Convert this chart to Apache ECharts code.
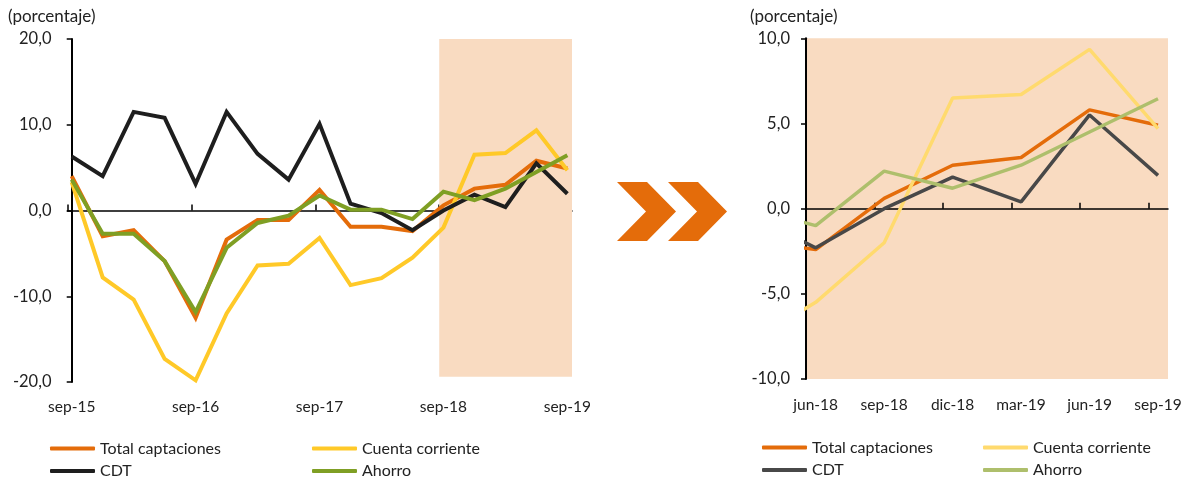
<!DOCTYPE html>
<html>
<head>
<meta charset="utf-8">
<script src="https://cdn.jsdelivr.net/npm/echarts@6/dist/echarts.min.js"></script>
<style>
  html, body { margin: 0; padding: 0; background: #fff; }
  #chart { width: 1191px; height: 483px; }
</style>
</head>
<body>
<div id="chart"></div>
<script>
// trimestres sep-15 .. sep-19 (indice 0..16)
const quarters = ['sep-15', 'dic-15', 'mar-16', 'jun-16', 'sep-16', 'dic-16', 'mar-17', 'jun-17', 'sep-17',
  'dic-17', 'mar-18', 'jun-18', 'sep-18', 'dic-18', 'mar-19', 'jun-19', 'sep-19']
const totalCaptaciones = [4.0, -3.0, -2.3, -5.9, -12.5, -3.4, -1.1, -1.1, 2.4, -1.9, -1.9, -2.4, 0.6, 2.55, 3.0, 5.8, 4.9]
const cuentaCorriente = [3.3, -7.8, -10.4, -17.3, -19.8, -12.0, -6.4, -6.2, -3.2, -8.7, -7.9, -5.5, -2.0, 6.5, 6.7, 9.35, 4.7]
const cdt = [6.3, 4.0, 11.5, 10.8, 3.1, 11.5, 6.6, 3.6, 10.1, 0.8, -0.3, -2.3, 0.0, 1.85, 0.4, 5.5, 1.95]
const ahorro = [3.6, -2.7, -2.7, -5.9, -11.85, -4.35, -1.45, -0.6, 1.75, 0.1, 0.1, -1.0, 2.2, 1.2, 2.55, 4.5, 6.45]

const leftLabels = ['sep-15', 'sep-16', 'sep-17', 'sep-18', 'sep-19']
const rightLabels = ['jun-18', 'sep-18', 'dic-18', 'mar-19', 'jun-19', 'sep-19']
const rightFrom = 'mar-18'      // el panel derecho arranca recortado antes de jun-18
const shadeFrom = 'sep-18'

const names = ['Total captaciones', 'Cuenta corriente', 'CDT', 'Ahorro']
const values = [totalCaptaciones, cuentaCorriente, cdt, ahorro]
const leftColors = ['#E46C0A', '#FFC928', '#1E1E1E', '#7F9F24']
const rightColors = ['#E46C0A', '#FFDA6E', '#484848', '#AEBF6C']
const peach = '#F9DBC1'
const font = 'Lato'

// eje x: excel pone las marcas un poco antes de cada dato
const leftMin = -0.136, leftMax = 16.15
const rStart = quarters.indexOf(rightFrom)
const rFirst = quarters.indexOf(rightLabels[0])
const rightMin = rFirst - 0.142, rightMax = quarters.length - 1 + 0.146

const idx = l => quarters.indexOf(l)
const fmt = v => v.toFixed(1).replace('.', ',')

const chart = echarts.init(document.getElementById('chart'))

const yAxisBase = (gi, min, max, interval) => ({
  type: 'value', gridIndex: gi, min, max, interval,
  axisLine: { show: true, lineStyle: { color: '#000', width: 2 } },
  axisTick: { show: true, inside: false, length: 5, lineStyle: { color: '#000', width: 1.5 } },
  axisLabel: { formatter: fmt, color: '#222', fontSize: 16.5, fontFamily: font, margin: 16 },
  splitLine: { show: false }
})

const lineAxis = (gi, min, max, ticks) => ({
  type: 'value', gridIndex: gi, min, max,
  axisLine: { show: true, onZero: true, lineStyle: { color: '#000', width: 1.5 } },
  axisTick: { show: true, inside: true, length: 6, customValues: ticks, lineStyle: { color: '#000', width: 1.5 } },
  axisLabel: { show: false },
  splitLine: { show: false }
})

const labelAxis = (gi, min, max, labels, margin) => ({
  type: 'value', gridIndex: gi, min, max, position: 'bottom',
  axisLine: { show: false, onZero: false },
  axisTick: { show: false },
  axisLabel: {
    customValues: labels.map(idx),
    formatter: v => quarters[Math.round(v)],
    color: '#222', fontSize: 15.5, fontFamily: font, margin
  },
  splitLine: { show: false }
})

const leftTicks = leftLabels.map(l => idx(l) + leftMin)
const rightTicks = rightLabels.slice(1).map(l => idx(l) + (rightMin - rFirst))

const series = []
// sombreado del periodo reciente en el panel izquierdo
series.push({
  type: 'line', xAxisIndex: 0, yAxisIndex: 0, data: [], z: 1, silent: true, clip: false,
  markArea: {
    silent: true,
    itemStyle: { color: peach },
    data: [[{ xAxis: idx(shadeFrom) + leftMin, yAxis: 20.35 }, { xAxis: leftMax, yAxis: -19.4 }]]
  }
})
names.forEach((n, i) => {
  series.push({
    name: n, type: 'line', xAxisIndex: 0, yAxisIndex: 0, z: 3,
    data: values[i].map((v, k) => [k, v]),
    symbol: 'none', color: leftColors[i],
    lineStyle: { width: 4, color: leftColors[i], join: 'miter' }
  })
})
names.forEach((n, i) => {
  series.push({
    name: n, type: 'line', xAxisIndex: 2, yAxisIndex: 1, z: 3, clip: true,
    data: values[i].map((v, k) => [k, v]).slice(rStart),
    symbol: 'none', color: rightColors[i],
    lineStyle: { width: 3.5, color: rightColors[i] }
  })
})

const legendBase = (left, top, items, colors) => ({
  left, top, orient: 'vertical', padding: 0, itemGap: 6.5, itemWidth: 45, itemHeight: 4,
  selectedMode: false,
  textStyle: { color: '#222', fontSize: 16, fontFamily: font },
  data: items.map(n => {
    const c = colors[names.indexOf(n)]
    return { name: n, icon: 'roundRect', itemStyle: { color: c } }
  })
})

const titleStyle = { fontSize: 17, fontWeight: 'normal', color: '#222', fontFamily: font }

chart.setOption({
  animation: false,
  backgroundColor: '#fff',
  textStyle: { fontFamily: font },
  title: [
    { text: '(porcentaje)', left: 3, top: 3, textStyle: titleStyle },
    { text: '(porcentaje)', left: 745, top: 3, textStyle: titleStyle }
  ],
  grid: [
    { left: 67.5, top: 39, width: 504.5, height: 343, containLabel: false },
    { left: 806, top: 38.3, width: 362, height: 340.7, containLabel: false,
      show: true, backgroundColor: peach, borderWidth: 0 }
  ],
  xAxis: [
    lineAxis(0, leftMin, leftMax, leftTicks),
    labelAxis(0, leftMin, leftMax, leftLabels, 17),
    lineAxis(1, rightMin, rightMax, rightTicks),
    labelAxis(1, rightMin, rightMax, rightLabels, 18)
  ],
  yAxis: [
    yAxisBase(0, -20, 20, 10),
    yAxisBase(1, -10, 10, 5)
  ],
  legend: [
    legendBase(50, 440.5, ['Total captaciones', 'CDT'], leftColors),
    legendBase(312, 440.5, ['Cuenta corriente', 'Ahorro'], leftColors),
    legendBase(762, 439.5, ['Total captaciones', 'CDT'], rightColors),
    legendBase(983, 439.5, ['Cuenta corriente', 'Ahorro'], rightColors)
  ],
  graphic: [0, 51].map(dx => ({
    type: 'polygon',
    shape: { points: [[617 + dx, 182], [647 + dx, 182], [676 + dx, 211.5], [647 + dx, 241], [617 + dx, 241], [646 + dx, 211.5]] },
    style: { fill: '#E46C0A' }
  })),
  series
})
</script>
</body>
</html>
